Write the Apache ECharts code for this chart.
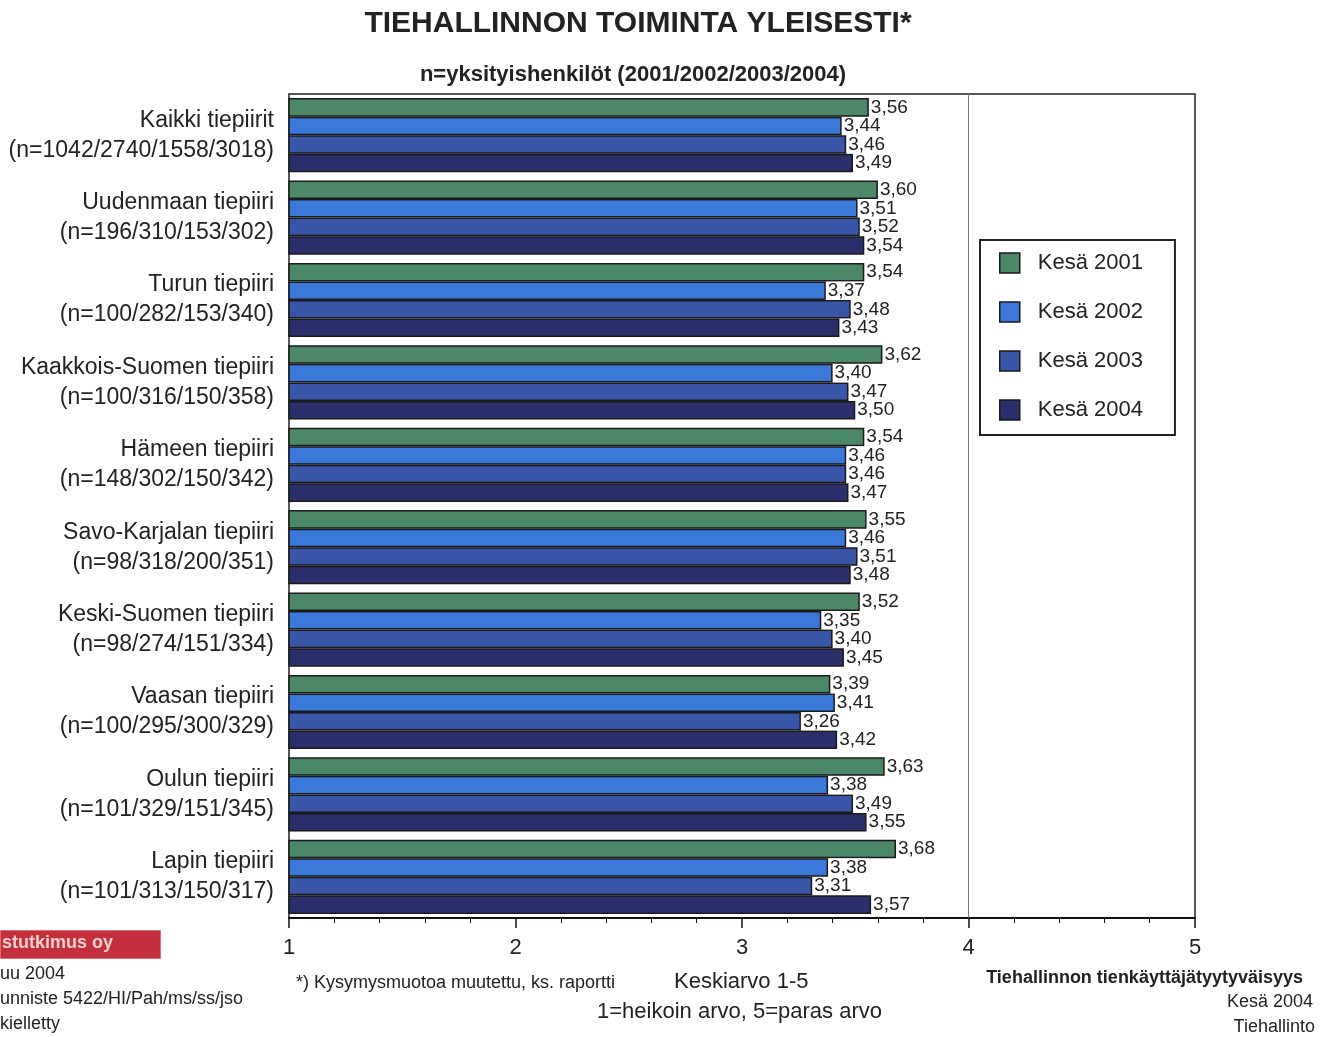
<!DOCTYPE html>
<html><head><meta charset="utf-8">
<script src="https://cdn.jsdelivr.net/npm/echarts@6/dist/echarts.min.js"></script>
<style>html,body{margin:0;padding:0;background:#fff}#c{width:1332px;height:1037px}</style>
</head><body><div id="c"></div>
<script>
const regions = ["Kaikki tiepiirit","Uudenmaan tiepiiri","Turun tiepiiri","Kaakkois-Suomen tiepiiri","Hämeen tiepiiri","Savo-Karjalan tiepiiri","Keski-Suomen tiepiiri","Vaasan tiepiiri","Oulun tiepiiri","Lapin tiepiiri"];
const sampleSizes = ["(n=1042/2740/1558/3018)","(n=196/310/153/302)","(n=100/282/153/340)","(n=100/316/150/358)","(n=148/302/150/342)","(n=98/318/200/351)","(n=98/274/151/334)","(n=100/295/300/329)","(n=101/329/151/345)","(n=101/313/150/317)"];
const seriesNames = ["Kesä 2001","Kesä 2002","Kesä 2003","Kesä 2004"];
const v2001 = [3.56,3.60,3.54,3.62,3.54,3.55,3.52,3.39,3.63,3.68];
const v2002 = [3.44,3.51,3.37,3.40,3.46,3.46,3.35,3.41,3.38,3.38];
const v2003 = [3.46,3.52,3.48,3.47,3.46,3.51,3.40,3.26,3.49,3.31];
const v2004 = [3.49,3.54,3.43,3.50,3.47,3.48,3.45,3.42,3.55,3.57];
const xTicks = [1,2,3,4,5];

const colors = ['#4a8868','#3a79d9','#3856a8','#2b2f6b'];
const categories = regions.map((r,i)=>r+'\n'+sampleSizes[i]);
const F = '"Liberation Sans", Arial, sans-serif';
const chart = echarts.init(document.getElementById('c'));
const values = [v2001,v2002,v2003,v2004];
const series = values.map((vals,i)=>({
  name: seriesNames[i], type:'bar', data: vals,
  barGap: '0%', barCategoryGap: '10%',
  itemStyle:{color:colors[i], borderColor:'#1a1a1a', borderWidth:1.5},
  label:{show:true, position:'right', distance:1, fontFamily:F, fontSize:19, color:'#222',
    backgroundColor:'#ffffff', padding:[0,1,0,1], lineHeight:18,
    formatter:p=>p.value.toFixed(2).replace('.',',')},
  markLine: i===0 ? {silent:true, symbol:'none', label:{show:false},
    lineStyle:{color:'#777', width:1, type:'solid'}, data:[{xAxis:4}]} : undefined,
  z: 3
}));
chart.setOption({
  animation:false,
  backgroundColor:'#fff',
  color: colors,
  title:[
    {text:'TIEHALLINNON TOIMINTA YLEISESTI*', left:633, top:4, textAlign:'center',
     textStyle:{fontFamily:F, fontSize:30, fontWeight:'bold', color:'#222'}},
    {text:'n=yksityishenkilöt (2001/2002/2003/2004)', left:628, top:59, textAlign:'center',
     textStyle:{fontFamily:F, fontSize:22, fontWeight:'bold', color:'#222'}}
  ],
  legend:{
    orient:'vertical', left:980, top:240, data:seriesNames,
    itemWidth:20, itemHeight:20, itemGap:27,
    padding:[12,32,14,19], borderColor:'#222', borderWidth:2, backgroundColor:'#fff',
    icon:'rect',
    itemStyle:{borderColor:'#1a1a1a', borderWidth:1.5},
    textStyle:{fontFamily:F, fontSize:22, color:'#222', padding:[0,0,0,13]}
  },
  grid:{left:289, right:137, top:94, bottom:119, show:true, borderColor:'#222', borderWidth:1.5, backgroundColor:'#fff'},
  xAxis:{type:'value', min:xTicks[0], max:xTicks[xTicks.length-1], interval:1, splitNumber:4,
    axisLine:{show:true, lineStyle:{color:'#111', width:2}},
    axisTick:{show:true, length:10, lineStyle:{color:'#111', width:1.5}},
    minorTick:{show:true, splitNumber:5, length:5, lineStyle:{color:'#111', width:1}},
    splitLine:{show:false},
    axisLabel:{fontFamily:F, fontSize:22, color:'#222', margin:19, formatter:v=>String(v)}
  },
  yAxis:{type:'category', data:categories, inverse:true,
    axisLine:{show:false}, axisTick:{show:false}, splitLine:{show:false},
    axisLabel:{fontFamily:F, fontSize:23, color:'#222', align:'right', margin:15, lineHeight:30}
  },
  series: series,
  graphic:[
    {type:'rect', left:0, top:930, shape:{width:160, height:28}, style:{fill:'#c3303b', stroke:'#e07070', lineWidth:1}},
    {type:'text', left:2, top:934, style:{text:'stutkimus oy', fill:'#f0d0d0', font:'bold 18px '+F}},
    {type:'text', left:0, top:965, style:{text:'uu 2004', fill:'#222', font:'18px '+F}},
    {type:'text', left:0, top:990, style:{text:'unniste 5422/HI/Pah/ms/ss/jso', fill:'#222', font:'18px '+F}},
    {type:'text', left:0, top:1015, style:{text:'kielletty', fill:'#222', font:'18px '+F}},
    {type:'text', left:296, top:974, style:{text:'*) Kysymysmuotoa muutettu, ks. raportti', fill:'#222', font:'18px '+F}},
    {type:'text', left:674, top:971, style:{text:'Keskiarvo 1-5', fill:'#222', font:'22px '+F}},
    {type:'text', left:597, top:1001, style:{text:'1=heikoin arvo, 5=paras arvo', fill:'#222', font:'22px '+F}},
    {type:'text', right:29, top:969, style:{text:'Tiehallinnon tienkäyttäjätyytyväisyys', fill:'#222', font:'bold 18px '+F, textAlign:'right'}},
    {type:'text', right:19, top:993, style:{text:'Kesä 2004', fill:'#222', font:'18px '+F}},
    {type:'text', right:17, top:1018, style:{text:'Tiehallinto', fill:'#222', font:'18px '+F}}
  ]
});
</script></body></html>
